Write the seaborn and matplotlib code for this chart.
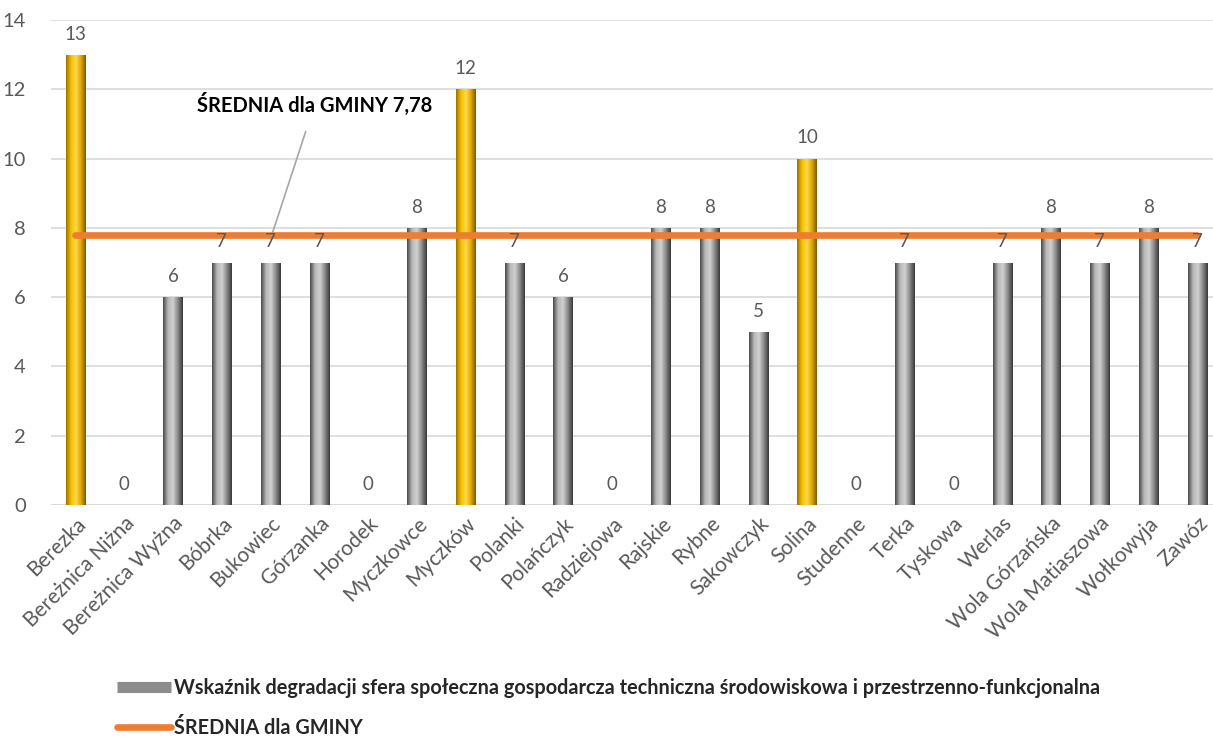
import matplotlib.pyplot as plt
import seaborn as sns
import numpy as np
import pandas as pd
from matplotlib.colors import LinearSegmentedColormap
from matplotlib.lines import Line2D

villages = ['Berezka', 'Bereżnica Niżna', 'Bereżnica Wyżna', 'Bóbrka', 'Bukowiec',
            'Górzanka', 'Horodek', 'Myczkowce', 'Myczków', 'Polanki', 'Polańczyk',
            'Radziejowa', 'Rajskie', 'Rybne', 'Sakowczyk', 'Solina', 'Studenne',
            'Terka', 'Tyskowa', 'Werlas', 'Wola Górzańska', 'Wola Matiaszowa',
            'Wołkowyja', 'Zawóz']
scores = [13, 0, 6, 7, 7, 7, 0, 8, 12, 7, 6, 0, 8, 8, 5, 10, 0, 7, 0, 7, 8, 7, 8, 7]
highlighted = ['Berezka', 'Myczków', 'Solina']
gmina_avg = 7.78

bar_label = 'Wskaźnik degradacji sfera społeczna gospodarcza techniczna środowiskowa i przestrzenno-funkcjonalna'
avg_label = 'ŚREDNIA dla GMINY'

gray_cmap = LinearSegmentedColormap.from_list('g', ['#4a4a4a', '#b8b8b8', '#d0d0d0', '#8a8a8a', '#3a3a3a'])
gold_cmap = LinearSegmentedColormap.from_list('y', ['#9c7400', '#f5c000', '#ffd84d', '#e0a800', '#7d5c00'])

df = pd.DataFrame({'Village': villages, 'Score': scores})
df['Avg'] = gmina_avg
palette = {v: ('#f0b400' if v in highlighted else '#8c8c8c') for v in villages}

sns.set_style('white')
plt.rcParams['font.family'] = ['Lato', 'DejaVu Sans']

fig = plt.figure(figsize=(12.13, 7.37), dpi=100)
ax = fig.add_axes([51 / 1213, 232 / 737, 1162 / 1213, 485 / 737])

sns.barplot(data=df, x='Village', y='Score', hue='Village', palette=palette,
            width=0.4, legend=False, ax=ax, linewidth=0)

# shaded cylinder look
for patch, v in zip(ax.patches, villages):
    x0, w, h = patch.get_x(), patch.get_width(), patch.get_height()
    if h <= 0:
        continue
    cmap = gold_cmap if v in highlighted else gray_cmap
    grad = np.linspace(0, 1, 64).reshape(1, -1)
    im = ax.imshow(grad, cmap=cmap, extent=[x0, x0 + w, 0, h], aspect='auto', zorder=2)
    im.set_clip_path(patch)

sns.lineplot(data=df, x='Village', y='Avg', color='#ed7d31', linewidth=4.8, ax=ax, zorder=4)

for i, val in enumerate(scores):
    ax.text(i, val + 0.35, f'{val}', ha='center', va='bottom', fontsize=13.5, color='#595959', zorder=5)

ax.set_xlim(-0.5, 23.32)
ax.set_ylim(0, 14)
ax.set_yticks(range(0, 15, 2))
ax.yaxis.grid(True, color='#d9d9d9', linewidth=1.2)
ax.set_axisbelow(True)
for s in ax.spines.values():
    s.set_visible(False)
ax.axhline(0, color='#d9d9d9', linewidth=1.5, zorder=1)
ax.set_xlabel('')
ax.set_ylabel('')
ax.tick_params(axis='y', labelsize=14.5, labelcolor='#595959', length=0, pad=18)
ax.tick_params(axis='x', labelsize=15, labelcolor='#595959', length=0, pad=6)
plt.setp(ax.get_xticklabels(), rotation=45, ha='right', rotation_mode='anchor')

ax.annotate(f'ŚREDNIA dla GMINY {gmina_avg:.2f}'.replace('.', ','), xy=(4.0, gmina_avg - 0.1),
            xytext=(4.9, 11.55), ha='center', va='center', fontsize=14.5, fontweight='bold',
            color='black', arrowprops=dict(arrowstyle='-', color='#a6a6a6', lw=1.2,
                                           shrinkA=9, shrinkB=0))

handles = [Line2D([0], [0], color='#8c8c8c', linewidth=8, solid_capstyle='butt'),
           Line2D([0], [0], color='#ed7d31', linewidth=4.8)]
fig.legend(handles, [bar_label, avg_label], loc='upper left', bbox_to_anchor=(105 / 1213, 1 - 666 / 737),
           frameon=False, handlelength=2.7, handletextpad=0.15, labelspacing=1.0,
           borderaxespad=0.2, prop={'weight': 'bold', 'size': 14.3})

fig.savefig('out.png', dpi=100)
